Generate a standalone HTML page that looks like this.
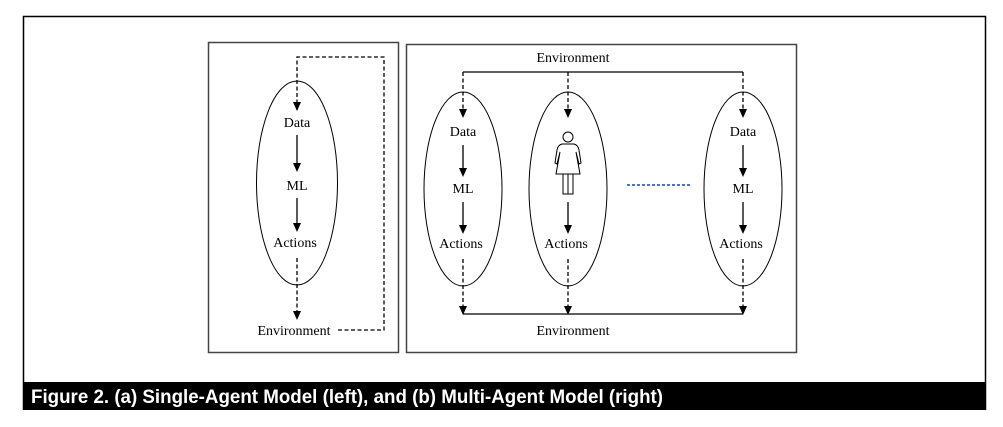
<!DOCTYPE html>
<html><head><style>
html,body{margin:0;padding:0;background:#fff;width:1003px;height:427px;overflow:hidden}
</style></head><body>
<svg width="1003" height="427" viewBox="0 0 1003 427" xmlns="http://www.w3.org/2000/svg" font-family="Liberation Serif, serif" font-size="14" fill="#000">
<path d="M23.5,410 V16.5 H985.5 V410" fill="none" stroke="#000" stroke-width="1.5"/>
<rect x="24" y="382" width="961" height="28" fill="#000"/>
<text x="31" y="403" font-family="Liberation Sans, Arial, sans-serif" font-weight="bold" font-size="19" fill="#fff" textLength="632" lengthAdjust="spacingAndGlyphs">Figure 2. (a) Single-Agent Model (left), and (b) Multi-Agent Model (right)</text>

<rect x="208.5" y="42.5" width="190" height="310" fill="none" stroke="#444" stroke-width="1.5"/>
<ellipse cx="297" cy="183" rx="40.5" ry="102" fill="none" stroke="#000" stroke-width="1"/>
<path d="M297,110 V57 H384 V330 H336" fill="none" stroke="#000" stroke-width="1.3" stroke-dasharray="4,2.5"/>
<path d="M293,102 L301,102 L297,111 Z"/>
<text x="297" y="127" text-anchor="middle">Data</text>
<line x1="297" y1="135" x2="297" y2="164" stroke="#000" stroke-width="1.3"/>
<path d="M293,163 L301,163 L297,172 Z"/>
<text x="297" y="190" text-anchor="middle">ML</text>
<line x1="297" y1="198" x2="297" y2="224" stroke="#000" stroke-width="1.3"/>
<path d="M293,223 L301,223 L297,232 Z"/>
<text x="295" y="247" text-anchor="middle">Actions</text>
<line x1="297" y1="258" x2="297" y2="312" stroke="#000" stroke-width="1.3" stroke-dasharray="4,2.5"/>
<path d="M293,311 L301,311 L297,320 Z"/>
<text x="294" y="335" text-anchor="middle">Environment</text>

<rect x="406.5" y="44.5" width="390" height="308" fill="none" stroke="#444" stroke-width="1.5"/>
<text x="573" y="62" text-anchor="middle">Environment</text>
<polyline points="463,72 743,72" fill="none" stroke="#000" stroke-width="1.3"/>
<polyline points="463,314 743,314" fill="none" stroke="#000" stroke-width="1.3"/>
<text x="573" y="335" text-anchor="middle">Environment</text>
<line x1="627" y1="185" x2="690" y2="185" stroke="#4a72c8" stroke-width="2" stroke-dasharray="3,2"/>

<g>
<ellipse cx="463" cy="189" rx="39" ry="97" fill="none" stroke="#000" stroke-width="1"/>
<line x1="463" y1="72" x2="463" y2="110" stroke="#000" stroke-width="1.3" stroke-dasharray="4,2.5"/>
<path d="M459,109 L467,109 L463,118 Z"/>
<text x="463" y="136" text-anchor="middle">Data</text>
<line x1="463" y1="145" x2="463" y2="169" stroke="#000" stroke-width="1.3"/>
<path d="M459,168 L467,168 L463,177 Z"/>
<text x="463" y="193" text-anchor="middle">ML</text>
<line x1="463" y1="202" x2="463" y2="226" stroke="#000" stroke-width="1.3"/>
<path d="M459,225 L467,225 L463,234 Z"/>
<text x="461" y="248" text-anchor="middle">Actions</text>
<line x1="463" y1="259" x2="463" y2="307" stroke="#000" stroke-width="1.3" stroke-dasharray="4,2.5"/>
<path d="M459,306 L467,306 L463,315 Z"/>
</g>
<g transform="translate(280,0)">
<ellipse cx="463" cy="189" rx="39" ry="97" fill="none" stroke="#000" stroke-width="1"/>
<line x1="463" y1="72" x2="463" y2="110" stroke="#000" stroke-width="1.3" stroke-dasharray="4,2.5"/>
<path d="M459,109 L467,109 L463,118 Z"/>
<text x="463" y="136" text-anchor="middle">Data</text>
<line x1="463" y1="145" x2="463" y2="169" stroke="#000" stroke-width="1.3"/>
<path d="M459,168 L467,168 L463,177 Z"/>
<text x="463" y="193" text-anchor="middle">ML</text>
<line x1="463" y1="202" x2="463" y2="226" stroke="#000" stroke-width="1.3"/>
<path d="M459,225 L467,225 L463,234 Z"/>
<text x="461" y="248" text-anchor="middle">Actions</text>
<line x1="463" y1="259" x2="463" y2="307" stroke="#000" stroke-width="1.3" stroke-dasharray="4,2.5"/>
<path d="M459,306 L467,306 L463,315 Z"/>
</g>
<ellipse cx="568" cy="189" rx="39" ry="97" fill="none" stroke="#000" stroke-width="1"/>
<line x1="568" y1="72" x2="568" y2="110" stroke="#000" stroke-width="1.3" stroke-dasharray="4,2.5"/>
<path d="M564,109 L572,109 L568,118 Z"/>
<circle cx="568" cy="137" r="5" fill="none" stroke="#000" stroke-width="1"/>
<path d="M562,144 H574 Q578,145 579,150 L581,163 L579,164 L576,152 L580,174 H556 L560,152 L557,164 L555,163 L557,150 Q558,145 562,144 Z" fill="none" stroke="#000" stroke-width="1"/>
<rect x="563" y="174" width="10" height="20" fill="none" stroke="#000" stroke-width="1"/>
<line x1="568" y1="174" x2="568" y2="194" stroke="#000" stroke-width="1"/>
<line x1="568" y1="202" x2="568" y2="226" stroke="#000" stroke-width="1.3"/>
<path d="M564,225 L572,225 L568,234 Z"/>
<text x="566" y="248" text-anchor="middle">Actions</text>
<line x1="568" y1="259" x2="568" y2="307" stroke="#000" stroke-width="1.3" stroke-dasharray="4,2.5"/>
<path d="M564,306 L572,306 L568,315 Z"/>
</svg>
</body></html>
